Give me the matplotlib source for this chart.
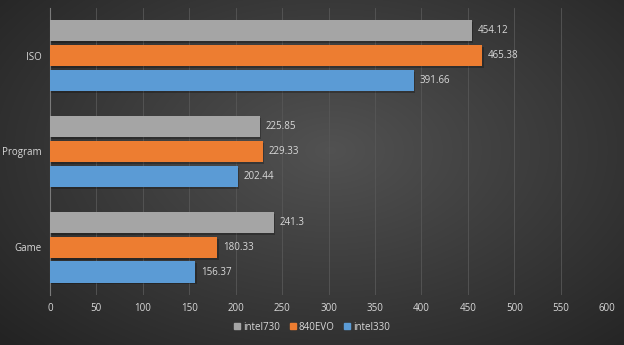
import numpy as np
import matplotlib
matplotlib.use("Agg")
import matplotlib.pyplot as plt
from matplotlib.patches import Patch

# data
categories = ["Game", "Program", "ISO"]
series = ["intel730", "840EVO", "intel330"]
intel730 = [241.3, 225.85, 454.12]
evo840 = [180.33, 229.33, 465.38]
intel330 = [156.37, 202.44, 391.66]
labels730 = ["241.3", "225.85", "454.12"]
labels840 = ["180.33", "229.33", "465.38"]
labels330 = ["156.37", "202.44", "391.66"]
xticks = list(range(0, 601, 50))

colors = ["#a5a5a5", "#ed7d31", "#5b9bd5"]
txt = "#d9d9d9"

plt.rcParams["font.family"] = ["Open Sans", "DejaVu Sans"]

fig = plt.figure(figsize=(6.24, 3.45), dpi=100)

# radial-ish dark background
bg = fig.add_axes([0, 0, 1, 1], zorder=-10)
yy, xx = np.mgrid[0:345, 0:624]
r = np.sqrt(((xx - 330) / 420.0) ** 2 + ((yy - 150) / 260.0) ** 2)
shade = np.clip(0.32 - 0.17 * r, 0.14, 0.32)
bg.imshow(np.dstack([shade] * 3), aspect="auto", extent=[0, 1, 0, 1])
bg.axis("off")

ax = fig.add_axes([0.0801, 0.145, 0.893, 0.832])
ax.set_facecolor("none")

y = np.arange(len(categories))
h = 0.22
step = 0.26
vals = [intel730, evo840, intel330]
labs = [labels730, labels840, labels330]
for i, (v, lab) in enumerate(zip(vals, labs)):
    pos = y - (i - 1) * step
    # soft shadow
    ax.barh(pos - 0.02, v, height=h, left=1.5, color="black", alpha=0.25, zorder=2)
    ax.barh(pos, v, height=h, color=colors[i], zorder=3, label=series[i])
    for p, val, s in zip(pos, v, lab):
        ax.text(val + 6, p, s, va="center", ha="left", color=txt, fontsize=7)

ax.set_xlim(0, 600)
ax.set_ylim(-0.5, 2.5)
ax.set_xticks(xticks)
ax.set_yticks(y)
ax.set_yticklabels(categories)
ax.tick_params(colors=txt, labelsize=7, length=0, pad=6)
ax.xaxis.grid(True, color="#575757", linewidth=0.6)
ax.set_axisbelow(True)
for s in ["top", "right", "bottom"]:
    ax.spines[s].set_visible(False)
ax.spines["left"].set_color("#7a7a7a")

handles = [Patch(color=c) for c in colors]
fig.legend(handles, series, loc="center", bbox_to_anchor=(0.5, 0.052), ncol=3,
           frameon=False, fontsize=7, labelcolor=txt, handlelength=0.6,
           handleheight=0.6, handletextpad=0.3, columnspacing=1.0)

fig.savefig("out.png", dpi=100)
